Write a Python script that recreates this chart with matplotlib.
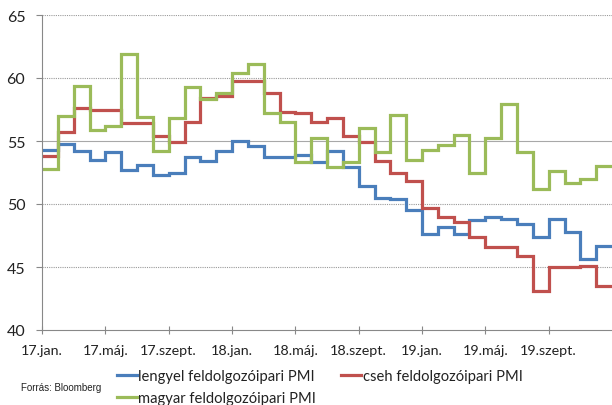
import numpy as np
import matplotlib
matplotlib.use("Agg")
import matplotlib.pyplot as plt
from matplotlib.lines import Line2D

# Monthly manufacturing PMI readings, one value per month step (Jan 2017 - Dec 2019)
lengyel = [54.3, 54.8, 54.2, 53.5, 54.1, 52.7, 53.1, 52.3, 52.5, 53.7, 53.4, 54.2,
           55.0, 54.6, 53.7, 53.7, 53.9, 53.3, 54.2, 52.9, 51.4, 50.5, 50.4, 49.5,
           47.6, 48.2, 47.6, 48.7, 49.0, 48.8, 48.4, 47.4, 48.8, 47.8, 45.6, 46.7]
cseh = [53.8, 55.7, 57.6, 57.5, 57.5, 56.4, 56.4, 55.4, 54.9, 56.5, 58.4, 58.6,
        59.8, 59.8, 58.8, 57.3, 57.2, 56.5, 56.8, 55.4, 54.9, 53.4, 52.5, 51.8,
        49.7, 49.0, 48.6, 47.4, 46.6, 46.6, 45.9, 43.1, 45.0, 45.0, 45.1, 43.5]
magyar = [52.8, 57.0, 59.4, 55.9, 56.2, 61.9, 56.9, 54.2, 56.8, 59.3, 58.3, 58.8,
          60.4, 61.1, 57.2, 56.5, 53.3, 55.2, 52.9, 53.3, 56.0, 54.1, 57.1, 53.5,
          54.3, 54.7, 55.5, 52.5, 55.2, 57.9, 54.1, 51.2, 52.6, 51.7, 52.0, 53.0]

tick_labels = ["17.jan.", "17.máj.", "17.szept.", "18.jan.", "18.máj.",
               "18.szept.", "19.jan.", "19.máj.", "19.szept."]
series_names = ["lengyel feldolgozóipari PMI", "cseh feldolgozóipari PMI",
                "magyar feldolgozóipari PMI"]
colors = ["#4a7ebb", "#c0504d", "#9bbb59"]

plt.rcParams["font.family"] = ["Lato", "DejaVu Sans"]

fig = plt.figure(figsize=(6.12, 4.06), dpi=100)
ax = fig.add_axes([42 / 612, 75 / 406, 570 / 612, 315 / 406])

edges = np.arange(len(lengyel) + 1)
handles = []
for vals, col, name in zip([lengyel, cseh, magyar], colors, series_names):
    ax.stairs(vals, edges, color=col, linewidth=2.3, baseline=None)
    handles.append(Line2D([], [], color=col, linewidth=2.3, label=name))

ax.set_xlim(0, len(lengyel))
ax.set_ylim(40, 65)
ax.set_yticks([40, 45, 50, 55, 60, 65])
ax.set_xticks(np.arange(0, 36, 4))
ax.set_xticklabels(tick_labels)

# horizontal gridlines
for yv in [45, 50, 60, 65]:
    ax.axhline(yv, color="#9a9a9a", linewidth=0.8, linestyle=(0, (1, 1)), zorder=0)
ax.axhline(55, color="#a8a8a8", linewidth=0.8, zorder=0)

for s in ["top", "right"]:
    ax.spines[s].set_visible(False)
for s in ["left", "bottom"]:
    ax.spines[s].set_color("#888888")
    ax.spines[s].set_linewidth(0.8)

ax.tick_params(axis="x", direction="inout", length=6, width=0.8, color="#888888",
               labelsize=10.3, pad=7, labelcolor="#222222")
ax.tick_params(axis="y", direction="out", length=4, width=0.8, color="#888888",
               labelsize=11.5, pad=8, labelcolor="#222222")

leg = fig.legend(handles=[handles[0], handles[2], handles[1]], ncol=2,
                 loc="upper left", bbox_to_anchor=(117 / 612, 1 - 370 / 406),
                 frameon=False, fontsize=10.6, handlelength=1.35, handletextpad=0.1,
                 columnspacing=1.7, labelspacing=0.55, borderaxespad=0, borderpad=0)
for t in leg.get_texts():
    t.set_color("#222222")

fig.text(21 / 612, 1 - 388 / 406, "Forrás: Bloomberg", fontsize=7,
         family="Liberation Sans", va="center", ha="left", color="#222222")

fig.savefig("out.png", dpi=100)
